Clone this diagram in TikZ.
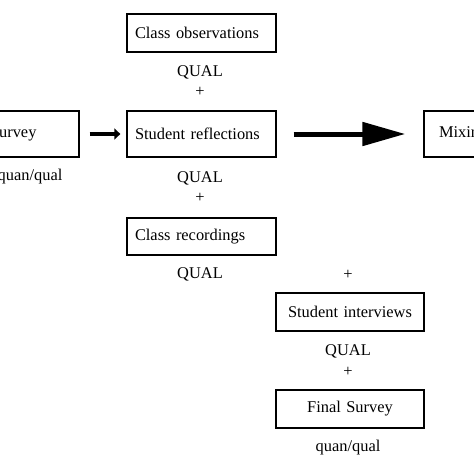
\documentclass[tikz,border=0pt]{standalone}
\usepackage{fontspec}
\setmainfont{Liberation Serif}
\usetikzlibrary{arrows.meta}
\tikzset{
  txt/.style={font=\fontsize{16.4}{19}\selectfont},
  boxl/.style={draw, line width=1.3pt, minimum width=149pt, text width=133pt, inner xsep=8pt, align=left, txt},
  boxc/.style={draw, line width=1.3pt, minimum width=148pt, text width=132pt, inner xsep=8pt, align=center, txt},
  lbl/.style={txt, inner sep=0pt},
  smallarrow/.style={line width=3.5pt, -{Triangle[length=6pt, width=11pt]}},
  bigarrow/.style={line width=5pt, -{Triangle[length=43pt, width=23pt]}}
}
\begin{document}
\begin{tikzpicture}[x=1pt, y=-1pt]
\useasboundingbox (0,0) rectangle (474,474);
\clip (0,0) rectangle (474,474);
\node[boxl, minimum height=38pt] (co) at (201.5,33) {Class observations};
\node[lbl] (q1) at (200,72) {QUAL};
\node[lbl] (p1) at (200,92) {+};
\node[boxl, minimum height=46pt, minimum width=97pt, text width=81pt] (sv) at (30.5,134) {Survey};
\node[lbl] (q0) at (30,177) {quan/qual};
\node[boxl, minimum height=46pt] (sr) at (201.5,134) {Student reflections};
\node[boxl, minimum height=46pt, inner xsep=15pt, text width=119pt] (mx) at (498.5,134) {Mixing};
\node[lbl] (q2) at (200,178) {QUAL};
\node[lbl] (p2) at (200,198) {+};
\node[boxl, minimum height=37pt] (cr) at (201.5,236.5) {Class recordings};
\node[lbl] (q3) at (200,274) {QUAL};
\node[lbl] (p3) at (348,275) {+};
\node[boxc, minimum height=38pt] (si) at (350,312) {Student interviews};
\node[lbl] (q4) at (348,351) {QUAL};
\node[lbl] (p4) at (348,372) {+};
\node[boxc, minimum height=38pt] (fs) at (350,409) {Final Survey};
\node[lbl] (q5) at (348,448) {quan/qual};
\draw[smallarrow, shorten <=10pt, shorten >=6pt] (sv.east) -- (sr.west);
\draw[bigarrow, shorten <=17pt, shorten >=18pt] (sr.east) -- (mx.west);
\end{tikzpicture}
\end{document}
